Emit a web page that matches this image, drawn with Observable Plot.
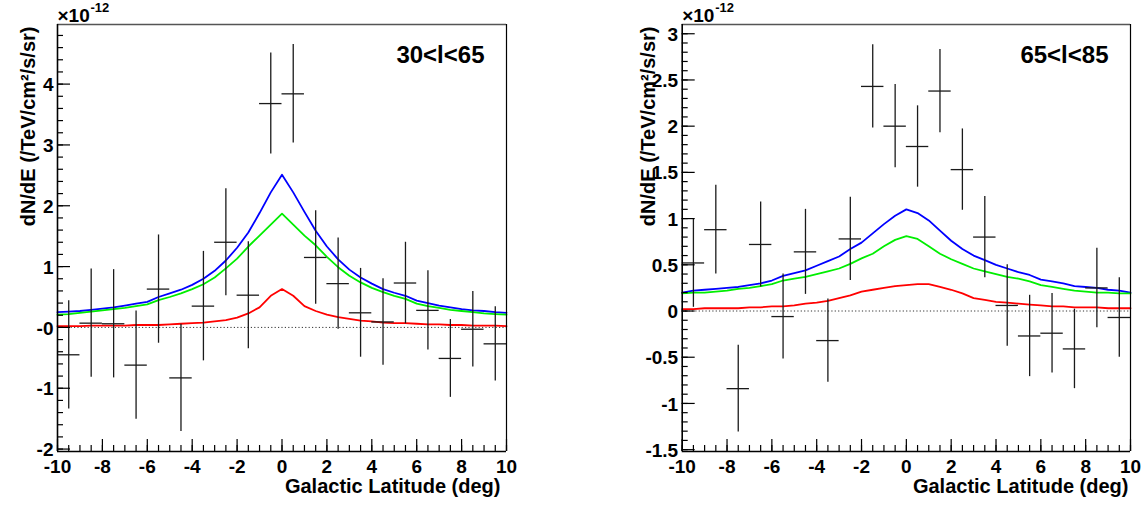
<!DOCTYPE html>
<html><head><meta charset="utf-8">
<script src="https://cdn.jsdelivr.net/npm/d3@7"></script>
<script src="https://cdn.jsdelivr.net/npm/@observablehq/plot@0.6"></script>
<style>
html,body{margin:0;padding:0;background:#fff;}
#wrap{display:flex;width:1147px;height:508px;overflow:hidden;}
#wrap svg{flex:none;}
</style></head><body><div id="wrap"></div>
<script>
// ---------- data (flux in units of 1e-12 /TeV/cm2/s/sr) ----------
const latBins = [-9.5,-8.5,-7.5,-6.5,-5.5,-4.5,-3.5,-2.5,-1.5,-0.5,0.5,1.5,2.5,3.5,4.5,5.5,6.5,7.5,8.5,9.5];
const binWidth = 1;
const fluxLeft = [-0.45,0.07,0.06,-0.62,0.63,-0.83,0.35,1.40,0.53,3.68,3.84,1.15,0.72,0.24,0.09,0.73,0.28,-0.51,-0.03,-0.27];
const errLeft  = [0.89,0.89,0.89,0.89,0.89,0.88,0.90,0.88,0.88,0.83,0.81,0.77,0.75,0.73,0.71,0.67,0.65,0.64,0.62,0.61];
const fluxRight = [0.52,0.88,-0.84,0.72,-0.06,0.64,-0.32,0.78,2.43,2.00,1.78,2.38,1.53,0.80,0.06,-0.27,-0.24,-0.41,0.25,-0.07];
const errRight  = [0.48,0.48,0.47,0.46,0.46,0.46,0.45,0.45,0.45,0.45,0.44,0.45,0.44,0.44,0.44,0.44,0.43,0.43,0.43,0.43];

const modelLat = [-10,-9.5,-9,-8.5,-8,-7.5,-7,-6.5,-6,-5.5,-5,-4.5,-4,-3.5,-3,-2.5,-2,-1.5,-1,-0.5,0,0.5,1,1.5,2,2.5,3,3.5,4,4.5,5,5.5,6,6.5,7,7.5,8,8.5,9,9.5,10];
const blueLeft  = [0.25,0.26,0.27,0.29,0.31,0.33,0.36,0.39,0.42,0.50,0.56,0.62,0.70,0.80,0.93,1.10,1.31,1.56,1.88,2.22,2.51,2.22,1.90,1.59,1.33,1.12,0.95,0.82,0.72,0.63,0.57,0.52,0.44,0.40,0.36,0.33,0.30,0.28,0.27,0.25,0.24];
const greenLeft = [0.21,0.22,0.24,0.26,0.28,0.30,0.32,0.35,0.38,0.45,0.50,0.56,0.63,0.71,0.82,0.97,1.13,1.33,1.51,1.69,1.87,1.69,1.51,1.35,1.16,0.99,0.85,0.74,0.65,0.58,0.52,0.47,0.39,0.35,0.32,0.29,0.27,0.25,0.23,0.22,0.21];
const redLeft   = [0.02,0.02,0.02,0.03,0.03,0.03,0.03,0.04,0.04,0.04,0.05,0.06,0.07,0.08,0.10,0.12,0.16,0.23,0.33,0.52,0.63,0.52,0.35,0.27,0.21,0.17,0.14,0.11,0.10,0.08,0.07,0.07,0.06,0.05,0.05,0.04,0.04,0.03,0.03,0.03,0.02];
const blueRight  = [0.20,0.22,0.23,0.24,0.25,0.26,0.28,0.30,0.33,0.38,0.41,0.44,0.49,0.54,0.59,0.67,0.74,0.84,0.94,1.03,1.10,1.06,0.98,0.87,0.76,0.67,0.60,0.55,0.50,0.46,0.42,0.39,0.34,0.32,0.30,0.27,0.26,0.25,0.23,0.22,0.20];
const greenRight = [0.19,0.20,0.20,0.21,0.22,0.24,0.25,0.27,0.29,0.33,0.35,0.37,0.40,0.43,0.46,0.51,0.57,0.62,0.70,0.77,0.81,0.78,0.70,0.62,0.56,0.51,0.46,0.43,0.40,0.37,0.35,0.32,0.28,0.26,0.24,0.22,0.21,0.20,0.20,0.19,0.19];
const redRight   = [0.02,0.02,0.03,0.03,0.03,0.03,0.04,0.04,0.05,0.05,0.06,0.08,0.09,0.11,0.14,0.17,0.21,0.23,0.25,0.27,0.28,0.29,0.29,0.26,0.23,0.19,0.14,0.12,0.10,0.09,0.08,0.07,0.06,0.05,0.05,0.04,0.04,0.04,0.03,0.03,0.03];

const xTicks = [-10,-8,-6,-4,-2,0,2,4,6,8,10];
const yTicksLeft = [-2,-1,0,1,2,3,4];
const yLabelsLeft = ["-2","-1","-0","1","2","3","4"];
const yTicksRight = [-1.5,-1,-0.5,0,0.5,1,1.5,2,2.5,3];
const yLabelsRight = ["-1.5","-1","-0.5","0","0.5","1","1.5","2","2.5","3"];
const panelLabels = ["30<l<65","65<l<85"];
const yTitle = "dN/dE (/TeV/cm²/s/sr)";
const xTitle = "Galactic Latitude (deg)";
const expBase = "×10", expPow = "-12";
const curveColors = ["#0000ff","#00ee00","#ff0000"];

const font = "'Liberation Sans', Arial, Helvetica, sans-serif";

function panel(cfg) {
  const {width, height, ml, mr, mt, mb, yDomain} = cfg;
  const iw = width - ml - mr, ih = height - mt - mb;
  const pts = latBins.map((x, i) => ({x, y: cfg.flux[i], e: cfg.err[i]}));
  const curves = [cfg.blue, cfg.green, cfg.red].map((arr, k) =>
    modelLat.map((x, i) => ({x, y: arr[i], k})));
  const xMinor = d3.range(-20, 21).map(i => i / 2);
  const lineMarks = curves.map((c, k) => Plot.line(c, {x: "x", y: "y", stroke: curveColors[k], strokeWidth: 1.8}));
  return Plot.plot({
    width, height, marginLeft: ml, marginRight: mr, marginTop: mt, marginBottom: mb,
    x: {domain: [-10, 10], axis: null},
    y: {domain: yDomain, axis: null},
    style: {fontFamily: font, fontWeight: "bold", background: "white", overflow: "visible", color: "black"},
    marks: [
      Plot.ruleY([0], {stroke: "#333", strokeDasharray: "1.2,2.2", strokeWidth: 1}),
      ...lineMarks,
      Plot.ruleX(pts, {x: "x", y1: d => d.y - d.e, y2: d => d.y + d.e, stroke: "#1a1a1a", strokeWidth: 1.3}),
      Plot.ruleY(pts, {y: "y", x1: d => d.x - binWidth / 2, x2: d => d.x + binWidth / 2, stroke: "#1a1a1a", strokeWidth: 1.3}),
      Plot.tickX(xMinor, {x: d => d, insetTop: ih - 6, stroke: "#000", strokeWidth: 1.2}),
      Plot.tickX(xTicks, {x: d => d, insetTop: ih - 12, stroke: "#000", strokeWidth: 1.2}),
      Plot.tickY(cfg.yMinor, {y: d => d, insetRight: iw - 6, stroke: "#000", strokeWidth: 1.2}),
      Plot.tickY(cfg.yTicks, {y: d => d, insetRight: iw - 13, stroke: "#000", strokeWidth: 1.2}),
      Plot.ruleY([yDomain[1]], {stroke: "#555", strokeWidth: 1.5}),
      Plot.ruleX([10], {stroke: "#000", strokeWidth: 1.2}),
      Plot.ruleX([-10], {stroke: "#000", strokeWidth: 1.6}),
      Plot.ruleY([yDomain[0]], {stroke: "#000", strokeWidth: 1.6}),
      Plot.text(xTicks, {x: d => d, frameAnchor: "bottom", dy: 21, lineAnchor: "bottom", text: d => String(d), fontSize: 19, fill: "#000"}),
      Plot.text(cfg.yTicks, {y: d => d, frameAnchor: "left", dx: -4, dy: 1, textAnchor: "end", lineAnchor: "middle", text: (d, i) => cfg.yLabels[i], fontSize: 19, fill: "#000"}),
      Plot.text([yTitle], {frameAnchor: "top-left", rotate: -90, textAnchor: "end", lineAnchor: "bottom", dx: cfg.titleDx, dy: 2, fontSize: 20, fill: "#000"}),
      Plot.text([xTitle], {frameAnchor: "bottom-right", textAnchor: "end", lineAnchor: "bottom", dx: cfg.xTitleDx, dy: 41.5, fontSize: 20, fill: "#000"}),
      Plot.text([cfg.label], {frameAnchor: "top-right", textAnchor: "end", lineAnchor: "bottom", dx: -22, dy: 38, fontSize: 24, fill: "#000"}),
      Plot.text([expBase], {frameAnchor: "top-left", textAnchor: "start", lineAnchor: "bottom", dx: 0, dy: -3, fontSize: 19, fill: "#000"}),
      Plot.text([expPow], {frameAnchor: "top-left", textAnchor: "start", lineAnchor: "bottom", dx: 33, dy: -12.5, fontSize: 13, fill: "#000"})
    ]
  });
}

const wrap = document.getElementById("wrap");
wrap.appendChild(panel({
  width: 573, height: 508, ml: 57, mr: 67, mt: 24, mb: 57,
  yDomain: [-2.04, 4.98],
  yTicks: yTicksLeft, yLabels: yLabelsLeft,
  yMinor: d3.range(-10, 25).map(i => i / 5),
  flux: fluxLeft, err: errLeft, blue: blueLeft, green: greenLeft, red: redLeft,
  label: panelLabels[0], titleDx: -23, xTitleDx: -6
}));
wrap.appendChild(panel({
  width: 574, height: 508, ml: 108.7, mr: 17, mt: 24, mb: 57,
  yDomain: [-1.52, 3.10],
  yTicks: yTicksRight, yLabels: yLabelsRight,
  yMinor: d3.range(-15, 31).map(i => i / 10),
  flux: fluxRight, err: errRight, blue: blueRight, green: greenRight, red: redRight,
  label: panelLabels[1], titleDx: -27, xTitleDx: -2
}));
</script></body></html>
